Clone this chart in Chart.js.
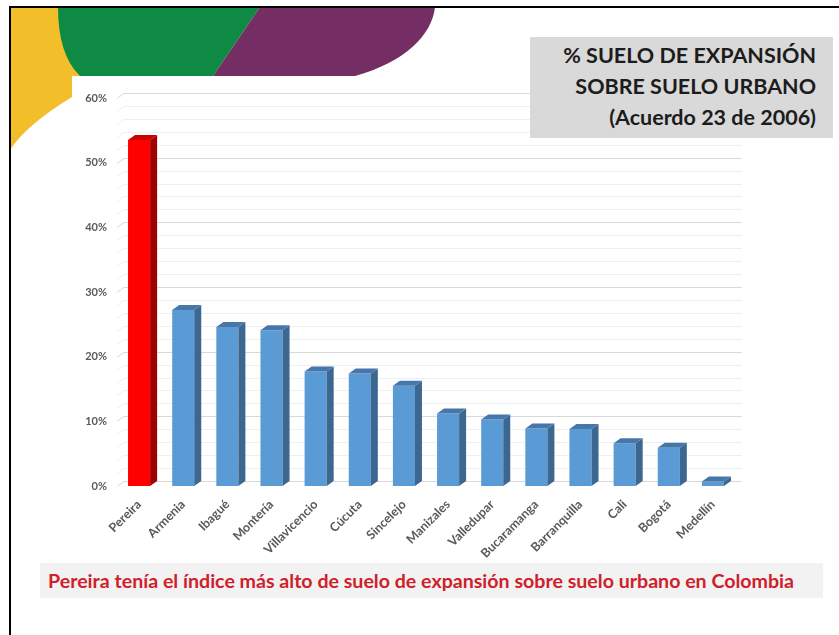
<!DOCTYPE html>
<html lang="es">
<head>
<meta charset="utf-8">
<title>% Suelo de expansión sobre suelo urbano</title>
<script src="https://cdn.jsdelivr.net/npm/chart.js@4.4.1/dist/chart.umd.min.js"></script>
<style>
  html, body { margin: 0; padding: 0; background: #fff; }
  #wrap { position: relative; width: 839px; height: 635px; overflow: hidden; }
  #chart { position: absolute; left: 0; top: 0; }
  #title {
    position: absolute; left: 530px; top: 37px; width: 303px; height: 101px;
    box-sizing: border-box; padding: 3px 17px 0 0; background: #d9d9d9;
    text-align: right; font: bold 21.5px/31px Lato, sans-serif; color: #1c1c1c;
  }
  #caption {
    position: absolute; left: 40px; top: 563px; width: 783px; height: 35px;
    box-sizing: border-box; padding-left: 8px; background: #f2f2f2;
    font: bold 19.6px/35px Lato, sans-serif; color: #d0202a; white-space: nowrap;
  }
</style>
</head>
<body>
<div id="wrap">
  <canvas id="chart" width="839" height="635"></canvas>
  <div id="title">% SUELO DE EXPANSIÓN<br>SOBRE SUELO URBANO<br>(Acuerdo 23 de 2006)</div>
  <div id="caption">Pereira tenía el índice más alto de suelo de expansión sobre suelo urbano en Colombia</div>
</div>
<script>
// ciudades y % de suelo de expansion sobre suelo urbano
const cities = ["Pereira", "Armenia", "Ibagué", "Montería", "Villavicencio", "Cúcuta", "Sincelejo",
  "Manizales", "Valledupar", "Bucaramanga", "Barranquilla", "Cali", "Bogotá", "Medellín"];
const shares = [53.5, 27.2, 24.6, 24.1, 17.7, 17.4, 15.5, 11.2, 10.3, 8.9, 8.8, 6.6, 5.9, 0.7];
const majorTicks = [0, 10, 20, 30, 40, 50, 60];

// colores: Pereira resaltada en rojo
const frontColors = cities.map((c, i) => i === 0 ? "#ff0000" : "#5b9bd5");
const sideColors = cities.map((c, i) => i === 0 ? "#a00000" : "#3c6791");
const topColors = cities.map((c, i) => i === 0 ? "#cc0000" : "#4677ab");

const depthX = 7;
const depthY = 5;

// fondo de la diapositiva
const decor = {
  id: "decor",
  beforeDraw(chart) {
    const ctx = chart.ctx;
    ctx.save();
    ctx.fillStyle = "#f2bf2b";
    ctx.beginPath();
    ctx.moveTo(10, 7);
    ctx.lineTo(120, 7);
    ctx.lineTo(120, 76);
    ctx.lineTo(72, 76);
    ctx.lineTo(72, 97);
    ctx.quadraticCurveTo(26, 125, 10, 150);
    ctx.closePath();
    ctx.fill();

    ctx.fillStyle = "#0f8a45";
    ctx.beginPath();
    ctx.moveTo(58, 7);
    ctx.lineTo(260, 7);
    ctx.lineTo(213, 76);
    ctx.lineTo(80, 76);
    ctx.quadraticCurveTo(58, 55, 58, 7);
    ctx.closePath();
    ctx.fill();

    ctx.fillStyle = "#742e63";
    ctx.beginPath();
    ctx.moveTo(260, 7);
    ctx.lineTo(435, 7);
    ctx.bezierCurveTo(432, 35, 405, 62, 355, 76);
    ctx.lineTo(213, 76);
    ctx.closePath();
    ctx.fill();

    ctx.fillStyle = "#ffffff";
    ctx.fillRect(72, 76, chart.width - 72, chart.height - 76);

    ctx.fillStyle = "#000";
    ctx.fillRect(9, 6, chart.width - 9, 2);
    ctx.fillRect(9, 6, 2, chart.height - 6);
    ctx.restore();
  }
};

// lineas de la pared del fondo (grafico 3D)
const backGrid = {
  id: "backGrid",
  beforeDatasetsDraw(chart) {
    const { ctx, chartArea, scales: { y } } = chart;
    ctx.save();
    ctx.lineWidth = 1;
    y.ticks.forEach(t => {
      const py = Math.round(y.getPixelForValue(t.value)) + 0.5;
      ctx.strokeStyle = majorTicks.includes(t.value) ? "#d9d9d9" : "#efefef";
      ctx.beginPath();
      ctx.moveTo(chartArea.left, py);
      ctx.lineTo(chartArea.left + depthX, py - depthY);
      ctx.lineTo(chartArea.right + depthX, py - depthY);
      ctx.stroke();
    });
    ctx.restore();
  }
};

// caras lateral y superior de cada barra
const bars3d = {
  id: "bars3d",
  afterDatasetsDraw(chart) {
    const ctx = chart.ctx;
    const meta = chart.getDatasetMeta(0);
    ctx.save();
    meta.data.forEach((bar, i) => {
      const l = bar.x - bar.width / 2;
      const r = bar.x + bar.width / 2;
      ctx.fillStyle = sideColors[i];
      ctx.beginPath();
      ctx.moveTo(r, bar.y);
      ctx.lineTo(r + depthX, bar.y - depthY);
      ctx.lineTo(r + depthX, bar.base - depthY);
      ctx.lineTo(r, bar.base);
      ctx.closePath();
      ctx.fill();

      ctx.fillStyle = topColors[i];
      ctx.beginPath();
      ctx.moveTo(l, bar.y);
      ctx.lineTo(l + depthX, bar.y - depthY);
      ctx.lineTo(r + depthX, bar.y - depthY);
      ctx.lineTo(r, bar.y);
      ctx.closePath();
      ctx.fill();
    });
    ctx.restore();
  }
};

const labelFont = { family: "Lato", size: 12.5, weight: "bold" };

new Chart(document.getElementById("chart"), {
  type: "bar",
  data: {
    labels: cities,
    datasets: [{
      data: shares,
      backgroundColor: frontColors,
      borderWidth: 0,
      barPercentage: 0.5,
      categoryPercentage: 1
    }]
  },
  options: {
    responsive: false,
    animation: false,
    devicePixelRatio: 1,
    layout: { padding: { left: 0, right: 104, top: 98, bottom: 69 } },
    plugins: {
      legend: { display: false },
      tooltip: { enabled: false }
    },
    scales: {
      x: {
        grid: { display: false, drawTicks: false },
        border: { display: false },
        ticks: {
          autoSkip: false,
          minRotation: 45,
          maxRotation: 45,
          padding: 11,
          color: "#595959",
          font: labelFont
        },
        afterFit: s => { s.height = 80; }
      },
      y: {
        min: 0,
        max: 60,
        grid: { display: false, drawTicks: false },
        border: { display: false },
        ticks: {
          stepSize: 2,
          autoSkip: false,
          padding: 10,
          color: "#595959",
          font: { family: "Lato", size: 11, weight: "bold" },
          callback: v => majorTicks.includes(v) ? v + "%" : ""
        },
        afterFit: s => { s.width = 117; }
      }
    }
  },
  plugins: [decor, backGrid, bars3d]
});
</script>
</body>
</html>
